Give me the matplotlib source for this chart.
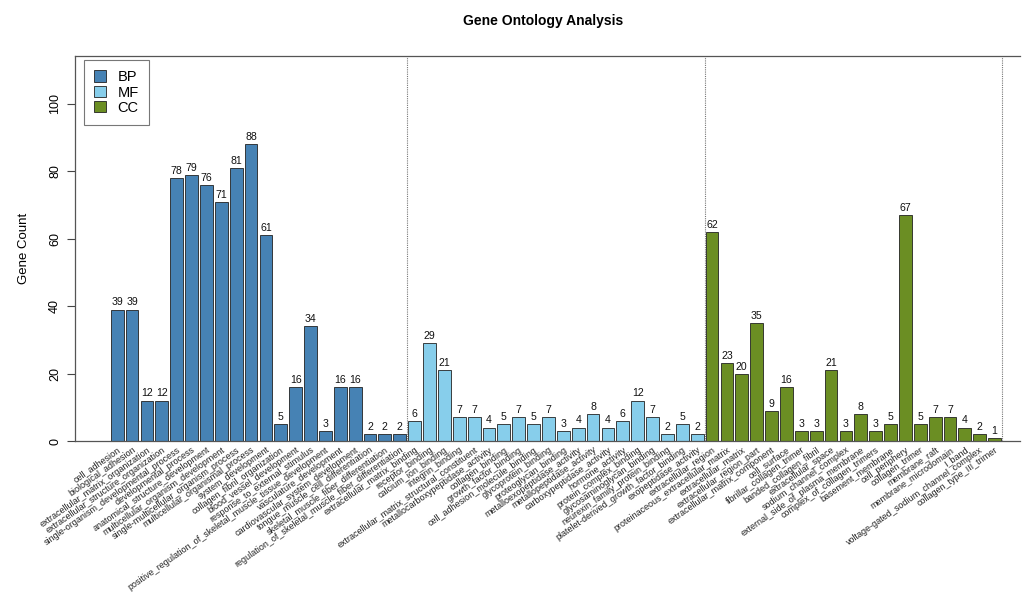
import matplotlib
matplotlib.use("Agg")
import matplotlib.pyplot as plt
from matplotlib.patches import Patch

plt.rcParams['font.family'] = ['Liberation Sans', 'DejaVu Sans']

bp_terms = [
    "cell_adhesion", "biological_adhesion", "extracellular_matrix_organization",
    "extracellular_structure_organization", "single-organism_developmental_process",
    "developmental_process", "anatomical_structure_development",
    "multicellular_organism_development", "single-multicellular_organism_process",
    "multicellular_organismal_process", "system_development",
    "collagen_fibril_organization", "blood_vessel_development",
    "response_to_external_stimulus",
    "positive_regulation_of_skeletal_muscle_tissue_development",
    "vasculature_development", "cardiovascular_system_development",
    "tongue_muscle_cell_differentiation", "skeletal_muscle_fiber_differentiation",
    "regulation_of_skeletal_muscle_fiber_differentiation",
]
bp_counts = [39, 39, 12, 12, 78, 79, 76, 71, 81, 88, 61, 5, 16, 34, 3, 16, 16, 2, 2, 2]

mf_terms = [
    "extracellular_matrix_binding", "receptor_binding", "calcium_ion_binding",
    "integrin_binding", "extracellular_matrix_structural_constituent",
    "metallocarboxypeptidase_activity", "collagen_binding", "growth_factor_binding",
    "cell_adhesion_molecule_binding", "glycoprotein_binding", "proteoglycan_binding",
    "metalloexopeptidase_activity", "metallopeptidase_activity",
    "carboxypeptidase_activity", "hormone_activity", "protein_complex_binding",
    "glycosaminoglycan_binding", "neurexin_family_protein_binding",
    "platelet-derived_growth_factor_binding", "exopeptidase_activity",
]
mf_counts = [6, 29, 21, 7, 7, 4, 5, 7, 5, 7, 3, 4, 8, 4, 6, 12, 7, 2, 5, 2]

cc_terms = [
    "extracellular_region", "proteinaceous_extracellular_matrix",
    "extracellular_matrix", "extracellular_region_part",
    "extracellular_matrix_component", "cell_surface", "fibrillar_collagen_trimer",
    "banded_collagen_fibril", "extracellular_space", "sodium_channel_complex",
    "external_side_of_plasma_membrane", "complex_of_collagen_trimers",
    "basement_membrane", "cell_periphery", "collagen_trimer", "membrane_raft",
    "membrane_microdomain", "I_band", "voltage-gated_sodium_channel_complex",
    "collagen_type_III_trimer",
]
cc_counts = [62, 23, 20, 35, 9, 16, 3, 3, 21, 3, 8, 3, 5, 67, 5, 7, 7, 4, 2, 1]

groups = [("BP", bp_terms, bp_counts, "#4682B4"),
          ("MF", mf_terms, mf_counts, "#87CEEB"),
          ("CC", cc_terms, cc_counts, "#6B8E23")]

fig = plt.figure(figsize=(10.24, 5.95), dpi=100)
ax = fig.add_axes([0.0732, 0.2588, 0.9228, 0.6471])

labels = []
start = 0
for name, terms, counts, color in groups:
    xs = list(range(start, start + len(counts)))
    bars = ax.bar(xs, counts, width=0.86, color=color, edgecolor="#222222",
                  linewidth=0.6)
    ax.bar_label(bars, padding=1.5, fontsize=7.6, color="#111111")
    labels += terms
    start += len(counts)
    # dotted separator after each ontology block
    ax.axvline(start - 0.5, color="#777777", linestyle=(0, (1, 1)), linewidth=0.8)

ax.set_xlim(-2.84, start + 0.7)
ax.set_ylim(0, 114.2)
ax.set_xticks(range(len(labels)))
ax.set_xticklabels(labels, rotation=35, ha="right", rotation_mode="anchor",
                   fontsize=6.5, color="#222222")
ax.tick_params(axis="x", length=0, pad=3)

ax.set_yticks([0, 20, 40, 60, 80, 100])
ax.set_yticklabels(["0", "20", "40", "60", "80", "100"], rotation=90, va="center",
                   fontsize=9)
ax.tick_params(axis="y", length=6, width=0.8, color="#444444", pad=4)
ax.set_ylabel("Gene Count", fontsize=9.5, labelpad=14)

for side in ["left", "top", "bottom"]:
    ax.spines[side].set_color("#555555")
    ax.spines[side].set_linewidth(0.9)
ax.spines["right"].set_visible(False)

handles = [Patch(facecolor=c, edgecolor="#222222", linewidth=0.6, label=n)
           for n, _, _, c in groups]
leg = ax.legend(handles=handles, loc="upper left", fontsize=10.5, fancybox=False,
                edgecolor="#555555", handlelength=0.8, handleheight=0.8,
                handletextpad=0.8, borderpad=0.7, labelspacing=0.1,
                borderaxespad=0, bbox_to_anchor=(0.0095, 0.99))
leg.get_frame().set_linewidth(0.8)

fig.text(0.53, 0.965, "Gene Ontology Analysis", ha="center", va="center",
         fontsize=10, fontweight="bold")

fig.savefig("out.png", dpi=100)
